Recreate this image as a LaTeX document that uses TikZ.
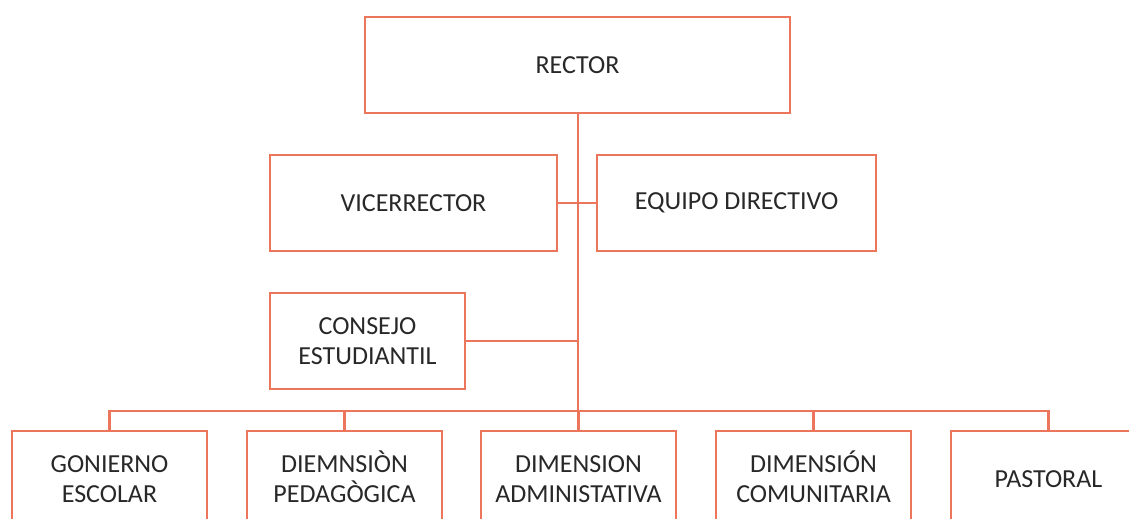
\documentclass[tikz,border=0pt]{standalone}
\usepackage{fontspec}
\setmainfont{Carlito}
\definecolor{orgc}{RGB}{236,118,92}
\definecolor{txtc}{RGB}{40,40,40}
\begin{document}
\begin{tikzpicture}[x=1pt,y=-1pt,
  box/.style={draw=orgc, line width=2.2pt, fill=white, text=txtc, align=center,
    inner sep=0pt, minimum height=96pt, font=\fontsize{26}{30}\selectfont},
  conn/.style={draw=orgc, line width=2.2pt}]
\useasboundingbox (0,0) rectangle (1129,519);
\clip (0,0) rectangle (1129,519);
\fill[white] (0,0) rectangle (1129,519);
\node[box, minimum width=425pt] (rector) at (577.5,65) {RECTOR};
\node[box, minimum width=287pt] (vice) at (413.5,203) {VICERRECTOR};
\node[box, minimum width=279pt] (equipo) at (736.5,203) {EQUIPO DIRECTIVO};
\node[box, minimum width=195pt] (consejo) at (367.5,341) {CONSEJO\\ESTUDIANTIL};
\node[box, minimum width=195pt] (b1) at (109.5,479) {GONIERNO\\ESCOLAR};
\node[box, minimum width=195pt] (b2) at (344.5,479) {DIEMNSI\smash{Ò}N\\PEDAGÒGICA};
\node[box, minimum width=195pt] (b3) at (578.5,479) {DIMENSION\\ADMINISTATIVA};
\node[box, minimum width=195pt] (b4) at (813.5,479) {DIMENSI\smash{Ó}N\\COMUNITARIA};
\node[box, minimum width=195pt] (b5) at (1048.5,479) {PASTORAL};
\coordinate (bus) at (578,411);
\draw[conn] (rector.south -| bus) -- (bus);
\draw[conn] (vice.east) -- (equipo.west);
\draw[conn] (consejo.east) -- (consejo.east -| bus);
\draw[conn] (b1.north) -- (b1.north |- bus) -- (b5.north |- bus) -- (b5.north);
\foreach \b in {b2,b3,b4} \draw[conn] (\b.north) -- (\b.north |- bus);
\end{tikzpicture}
\end{document}
